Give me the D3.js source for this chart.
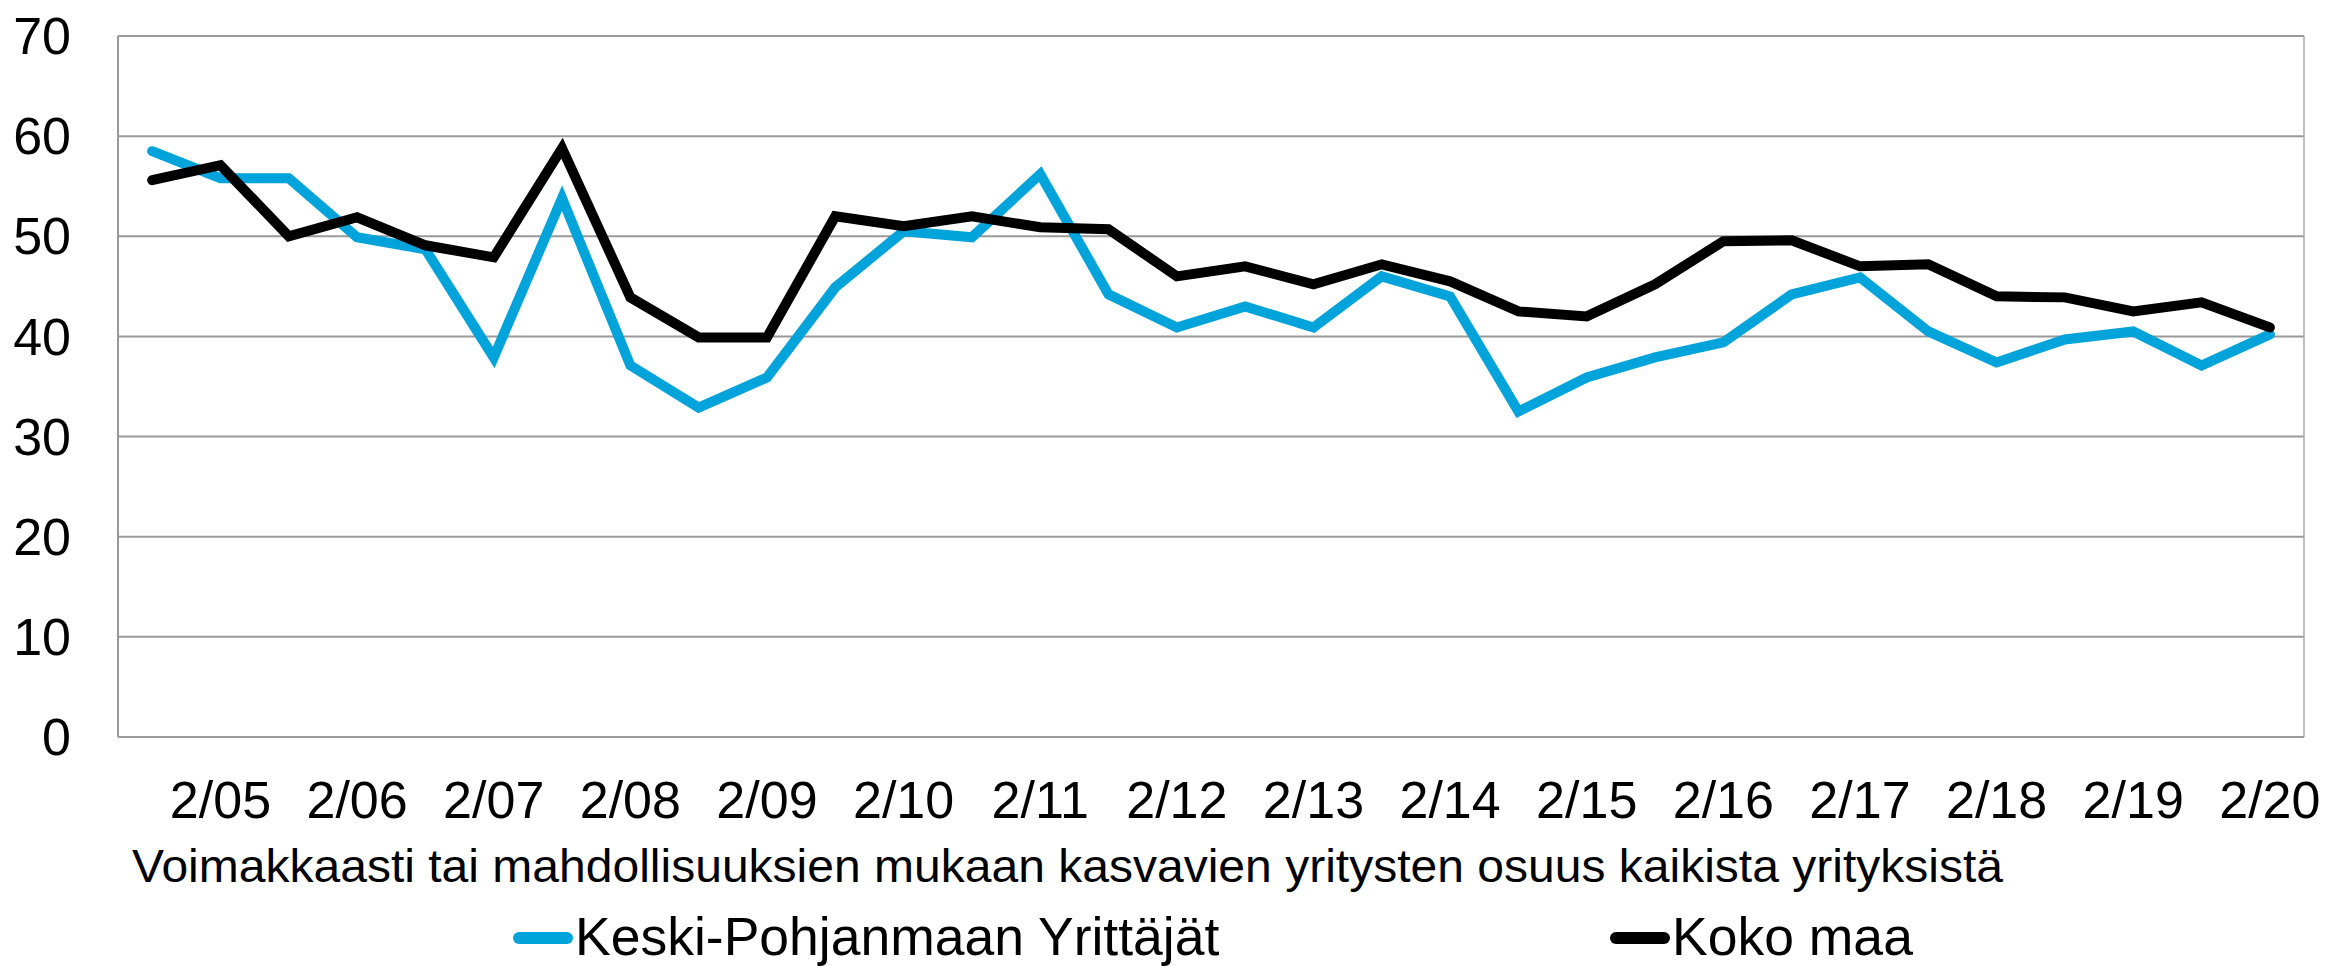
<!DOCTYPE html>
<html>
<head>
<meta charset="utf-8">
<script src="https://cdn.jsdelivr.net/npm/d3@7"></script>
<style>
body { margin: 0; background: #fff; }
text { font-family: "Liberation Sans", Arial, sans-serif; fill: #000; }
</style>
</head>
<body>
<svg id="chart"></svg>
<script>
var WIDTH = 2328;
var HEIGHT = 966;

// survey rounds, spring (2/yy) and autumn (9/yy)
var periods = ['9/04','2/05','9/05','2/06','9/06','2/07','9/07','2/08','9/08','2/09','9/09','2/10','9/10','2/11','9/11','2/12',
    '9/12','2/13','9/13','2/14','9/14','2/15','9/15','2/16','9/16','2/17','9/17','2/18','9/18','2/19','9/19','2/20'];
var tickLabels = ['2/05','2/06','2/07','2/08','2/09','2/10','2/11','2/12','2/13','2/14','2/15','2/16','2/17','2/18','2/19','2/20'];
var yTicks = [0, 10, 20, 30, 40, 50, 60, 70];

var keskiPohjanmaa = [58.5, 55.8, 55.8, 49.9, 48.7, 37.9, 53.8, 37.1, 32.9, 35.9, 44.9, 50.5, 49.9, 56.2, 44.2, 40.9,
    43.0, 40.9, 46.0, 44.0, 32.5, 35.9, 37.9, 39.4, 44.2, 45.9, 40.5, 37.4, 39.7, 40.5, 37.1, 40.2];
var kokoMaa = [55.6, 57.1, 50.0, 51.9, 49.1, 47.9, 58.8, 43.9, 39.9, 39.9, 52.0, 51.0, 52.0, 50.9, 50.7, 46.0,
    47.0, 45.2, 47.2, 45.5, 42.5, 42.0, 45.2, 49.5, 49.6, 47.0, 47.2, 44.0, 43.9, 42.5, 43.4, 40.9];

var seriesNames = ['Keski-Pohjanmaan Yrittäjät', 'Koko maa'];
var seriesColors = ['#00a3da', '#000000'];
var title = 'Voimakkaasti tai mahdollisuuksien mukaan kasvavien yritysten osuus kaikista yrityksistä';

var plotLeft = 118, plotRight = 2304, plotTop = 36, plotBottom = 737;

var svg = d3.select('#chart').attr('width', WIDTH).attr('height', HEIGHT);

var xScale = d3.scaleBand().domain(periods).range([plotLeft, plotRight]);
var yScale = d3.scaleLinear().domain([0, 70]).range([plotBottom, plotTop]);

// gridlines
svg.append('g')
    .selectAll('line')
    .data(yTicks)
    .enter()
    .append('line')
    .attr('x1', plotLeft)
    .attr('x2', plotRight)
    .attr('y1', function(d){ return yScale(d); })
    .attr('y2', function(d){ return yScale(d); })
    .attr('stroke', '#999')
    .attr('stroke-width', 2);

// plot frame left / right
svg.append('line').attr('x1', plotLeft).attr('x2', plotLeft).attr('y1', plotTop).attr('y2', plotBottom)
    .attr('stroke', '#999').attr('stroke-width', 2);
svg.append('line').attr('x1', plotRight).attr('x2', plotRight).attr('y1', plotTop).attr('y2', plotBottom)
    .attr('stroke', '#aaa').attr('stroke-width', 1.5);

var leftAxis = d3.axisLeft(yScale).tickValues(yTicks).tickSize(0).tickPadding(0);
var yAxis = svg.append('g').attr('transform', 'translate(71,0)').call(leftAxis);
yAxis.select('.domain').remove();
yAxis.attr('font-family', null).attr('font-size', null);
yAxis.selectAll('text').attr('font-size', 52).attr('dy', '0.34em');

var bottomAxis = d3.axisBottom(xScale)
    .tickValues(periods.filter(function(p){ return tickLabels.indexOf(p) >= 0; }))
    .tickSize(0).tickPadding(0);
var xAxis = svg.append('g').attr('transform', 'translate(0,818)').call(bottomAxis);
xAxis.select('.domain').remove();
xAxis.attr('font-family', null).attr('font-size', null);
xAxis.selectAll('text').attr('font-size', 52).attr('dy', 0).attr('y', 0);

svg.append('text')
    .attr('x', 132)
    .attr('y', 882)
    .attr('font-size', 46)
    .attr('textLength', 1871)
    .attr('lengthAdjust', 'spacingAndGlyphs')
    .text(title);

var line = d3.line()
    .x(function(d, i){ return xScale(periods[i]) + xScale.bandwidth() / 2; })
    .y(function(d){ return yScale(d); });

[keskiPohjanmaa, kokoMaa].forEach(function(values, i){
    svg.append('path')
        .datum(values)
        .attr('d', line)
        .attr('fill', 'none')
        .attr('stroke', seriesColors[i])
        .attr('stroke-width', 10)
        .attr('stroke-linejoin', 'miter')
        .attr('stroke-miterlimit', 3)
        .attr('stroke-linecap', 'round');
});

// legend
var legendX = [519, 1616];
seriesNames.forEach(function(name, i){
    var g = svg.append('g').attr('transform', 'translate(' + legendX[i] + ',938)');
    g.append('line').attr('x1', 0).attr('x2', 48).attr('y1', 0).attr('y2', 0)
        .attr('stroke', seriesColors[i]).attr('stroke-width', 12).attr('stroke-linecap', 'round');
    g.append('text').attr('x', 56).attr('y', 17).attr('font-size', 53.5).text(name);
});
</script>
</body>
</html>
